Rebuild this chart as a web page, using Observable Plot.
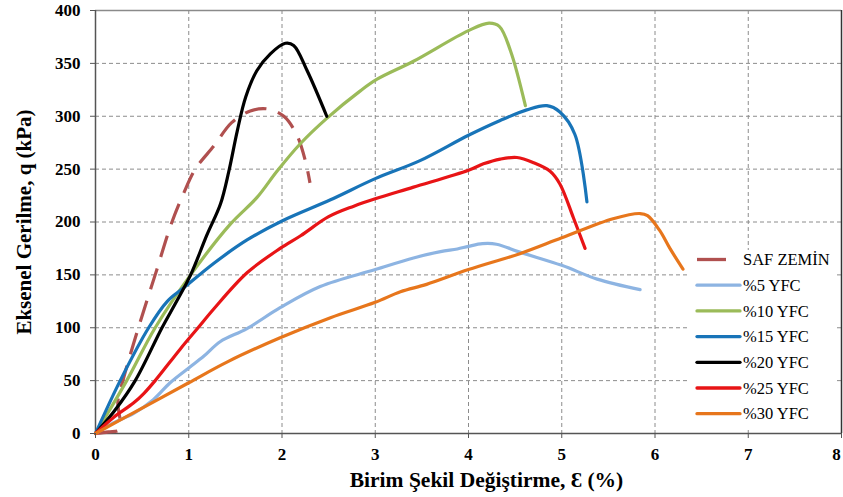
<!DOCTYPE html>
<html><head><meta charset="utf-8">
<script src="https://cdn.jsdelivr.net/npm/d3@7"></script>
<script src="https://cdn.jsdelivr.net/npm/@observablehq/plot@0.6"></script>
<style>
html,body{margin:0;padding:0;background:#fff;}
#wrap{position:relative;width:843px;height:497px;}
#legend{position:absolute;left:690px;top:250px;}
</style></head><body><div id="wrap"></div>
<script>
const seriesNames = ["SAF ZEMİN", "%5 YFC", "%10 YFC", "%15 YFC", "%20 YFC", "%25 YFC", "%30 YFC"];
const seriesColors = ["#b0504f", "#8db4e2", "#9bbb59", "#1874b8", "#000000", "#e81416", "#e7761c"];
const xTicks = [0, 1, 2, 3, 4, 5, 6, 7, 8];
const yTicks = [0, 50, 100, 150, 200, 250, 300, 350, 400];
const xTitle = "Birim Şekil Değiştirme, Ɛ (%)";
const yTitle = "Eksenel Gerilme, q (kPa)";

const safX = [0, 0.14, 0.26, 0.24, 0.3, 0.46, 0.64, 0.82, 0.95, 1.07, 1.27, 1.46, 1.66, 1.84, 2.02, 2.16, 2.25, 2.3];
const safY = [0, 1.5, 4, 30, 52, 100, 150, 200, 228, 250, 272, 294, 305, 307, 300, 282, 258, 237];
const y5X = [0, 0.19, 0.41, 0.62, 0.8, 1.0, 1.16, 1.34, 1.62, 1.98, 2.41, 3.0, 3.41, 3.7, 3.88, 4.0, 4.15, 4.3, 4.55, 5.0, 5.38, 5.84];
const y5Y = [0, 10, 19, 32, 48, 62, 73, 87, 99, 119, 139, 155, 166, 172, 174.5, 177, 179.5, 179, 171.5, 159, 146, 136];
const y10X = [0, 0.335, 0.64, 1.02, 1.446, 1.73, 1.946, 2.196, 2.48, 2.84, 3.02, 3.41, 4.0, 4.22, 4.33, 4.45, 4.61];
const y10Y = [0, 50, 100, 150, 198, 223, 248, 274, 298, 324, 335, 352, 381, 388, 385, 362, 310];
const y15X = [0, 0.265, 0.57, 0.77, 0.95, 1.27, 1.625, 2.0, 2.52, 3.0, 3.48, 4.0, 4.34, 4.625, 4.84, 4.98, 5.14, 5.27];
const y15Y = [0, 50, 100, 125, 138, 161, 183, 201, 221, 241, 258, 282, 296, 306, 310, 304, 283, 219];
const y20X = [0, 0.2, 0.426, 0.713, 0.87, 1.02, 1.196, 1.34, 1.43, 1.52, 1.61, 1.73, 1.875, 2.036, 2.125, 2.27, 2.48];
const y20Y = [0, 21, 50, 100, 125, 150, 188, 217, 248, 286, 318, 343, 359, 369, 367, 343, 300];
const y25X = [0, 0.19, 0.41, 0.52, 0.64, 0.91, 1.1, 1.27, 1.625, 1.98, 2.2, 2.5, 2.77, 3.0, 3.41, 4.0, 4.16, 4.34, 4.52, 4.7, 4.875, 4.98, 5.125, 5.25];
const y25Y = [0, 15, 29, 38, 50, 80, 100, 118, 152, 175, 187, 205, 215, 222, 233, 249, 255, 259.5, 261, 256, 248, 236, 204, 175];
const y30X = [0, 0.5, 1.0, 1.42, 1.98, 2.52, 3.0, 3.27, 3.55, 4.0, 4.55, 5.0, 5.55, 5.84, 5.92, 6.05, 6.16, 6.3];
const y30Y = [0, 24, 48, 68, 90.5, 109.5, 124, 134, 141, 155, 170, 185, 203, 208, 206, 192, 175, 155.5];

const seriesX = [safX, y5X, y10X, y15X, y20X, y25X, y30X];
const seriesY = [safY, y5Y, y10Y, y15Y, y20Y, y25Y, y30Y];
const rows = seriesNames.flatMap((name, i) => seriesX[i].map((x, j) => ({name, x, y: seriesY[i][j]})));

const lineMarks = seriesNames.map((name, i) => Plot.line(rows.filter(d => d.name === name), {
  x: "x", y: "y", stroke: seriesColors[i], strokeWidth: 3.2, curve: "catmull-rom",
  strokeLinecap: i === 0 ? "butt" : "round", strokeLinejoin: "round",
  strokeDasharray: i === 0 ? "22,12" : null
}));

const lastTick = xTicks[xTicks.length - 1];
const chart = Plot.plot({
  width: 843, height: 497,
  marginTop: 10, marginRight: 2, marginBottom: 64, marginLeft: 95,
  style: {fontFamily: "'Liberation Serif','Times New Roman',serif", background: "#fff", color: "#000"},
  x: {domain: [0, 8]},
  y: {domain: [0, 400]},
  marks: [
    Plot.gridX(xTicks.filter(d => d > 0 && d < 8), {stroke: "#8c8c8c", strokeOpacity: 1, strokeWidth: 1, strokeDasharray: "4,3"}),
    Plot.gridY(yTicks.filter(d => d > 0 && d < 400), {stroke: "#8c8c8c", strokeOpacity: 1, strokeWidth: 1, strokeDasharray: "4,3"}),
    Plot.ruleY([400], {stroke: "#8a8a8a", strokeWidth: 1.5}),
    Plot.ruleX([8], {stroke: "#333", strokeWidth: 1.5}),
    Plot.ruleX([0], {stroke: "#555", strokeWidth: 1.5}),
    Plot.ruleY([0], {stroke: "#555", strokeWidth: 1.5}),
    ...lineMarks,
    Plot.axisX(xTicks, {tickSize: 5, tickPadding: 9, fontSize: 17, fontWeight: "bold", label: null, stroke: "#555",
      tickFormat: d => d === lastTick ? "" : String(d)}),
    Plot.axisX([lastTick], {tickSize: 5, tickPadding: 9, fontSize: 17, fontWeight: "bold", label: null, stroke: "none", dx: -5}),
    Plot.axisY(yTicks, {tickSize: 5, tickPadding: 10, fontSize: 17, fontWeight: "bold", label: null, stroke: "#555"}),
    Plot.text([xTitle], {frameAnchor: "bottom", dy: 47, dx: 18, fontSize: 21.5, fontWeight: "bold", lineAnchor: "middle", textAnchor: "middle"}),
    Plot.text([yTitle], {frameAnchor: "left", dx: -71, rotate: -90, fontSize: 21, fontWeight: "bold", lineAnchor: "middle", textAnchor: "middle"})
  ]
});
const wrap = document.getElementById("wrap");
wrap.appendChild(chart);

// legend
const lg = d3.select(wrap).append("svg").attr("id", "legend").attr("width", 147).attr("height", 178)
  .style("font-family", "'Liberation Serif','Times New Roman',serif");
lg.append("rect").attr("width", 147).attr("height", 178).attr("fill", "#fff");
seriesNames.forEach((name, i) => {
  const yc = 9.5 + i * 25.7;
  lg.append("line").attr("x1", 7).attr("x2", i === 0 ? 36 : 50).attr("y1", yc).attr("y2", yc)
    .attr("stroke", seriesColors[i]).attr("stroke-width", 3.3).attr("stroke-linecap", i === 0 ? "butt" : "round");
  lg.append("text").attr("x", 53).attr("y", yc).attr("dy", "0.35em").attr("font-size", 16.5).text(name);
});
</script></body></html>
